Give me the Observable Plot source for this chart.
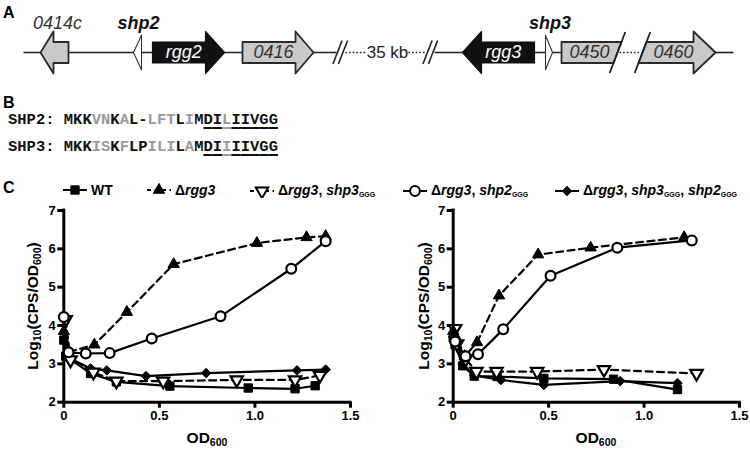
<!DOCTYPE html>
<html>
<head>
<meta charset="utf-8">
<script src="https://cdn.jsdelivr.net/npm/d3@7"></script>
<script src="https://cdn.jsdelivr.net/npm/@observablehq/plot@0.6"></script>
<style>
  body { margin: 0; background: #fff; }
  #fig { position: relative; width: 750px; height: 449px; overflow: hidden;
         font-family: "Liberation Sans", Arial, Helvetica, sans-serif; color: #000; }
  .abs { position: absolute; }
  .plabel { font-weight: bold; font-size: 16px; line-height: 1; }
  .seq { font-family: "Liberation Mono", "Courier New", monospace; font-weight: bold;
         font-size: 15.5px; white-space: pre; color: #111; line-height: 1; }
  .g { color: #9a9a9a; }
  .u { text-decoration: underline; text-underline-offset: 3px; text-decoration-thickness: 1.6px; }
  .leg { font-weight: bold; font-size: 14px; white-space: nowrap; display: flex; align-items: center; line-height: 1; }
  .leg svg { margin-right: 4px; }
  .leg sub { font-size: 7px; vertical-align: -2px; }
  .ytitle { font-weight: bold; font-size: 15.5px; white-space: nowrap; transform: translate(-50%,-50%) rotate(-90deg); line-height: 1; }
  .xtitle { font-weight: bold; font-size: 15.5px; white-space: nowrap; transform: translate(-50%,-50%); line-height: 1; }
  .ytitle sub, .xtitle sub { font-size: 10.5px; vertical-align: -3px; }
  svg.cplot g[aria-label="x-axis tick"] path, svg.cplot g[aria-label="y-axis tick"] path { stroke-width: 3; }
</style>
</head>
<body>
<div id="fig"></div>
<script>
// ===================== DATA =====================
// Panel A: gene map (schematic positions along the locus)
const geneNames  = ["0414c", "shp2", "rgg2", "0416", "rgg3", "shp3", "0450", "0460"];
const geneLeft   = [40, 133, 152, 242, 462, 545, 561, 642];
const geneRight  = [68, 141, 224, 313, 534, 552, 617, 715];
const geneStrand = [-1, -1, 1, 1, -1, 1, 0, 1];
const geneHead   = [13, 8, 19, 18, 19, 7, 0, 22];
const geneKind   = ["gray", "white", "black", "gray", "black", "white", "gray", "gray"];
const geneCut    = ["", "", "", "", "", "", "right", "left"];
const backboneFrom = [23, 434, 715];
const backboneTo   = [336, 617, 733];
const gapFrom = [345, 408, 619];
const gapTo   = [366, 425, 641];
const breakAt = [337, 342.5, 427, 432.5];
const gapLabel = "35 kb";
const gapLabelPos = 387;

// Panel B: peptide sequences (g = grey residue, u = underlined)
const seqNames = ["SHP2", "SHP3"];
const seqs     = ["MKKVNKAL-LFTLIMDILIIVGG", "MKKISKFLPILILAMDIIIIVGG"];
const seqGrey  = [[3,4,6,9,10,11,13,17], [3,4,6,9,10,11,13,17]];
const underlineFrom = 15;

// Panel C: Log10(CPS/OD600) vs OD600
const seriesNames = ["WT", "Δrgg3", "Δrgg3, shp3GGG", "Δrgg3, shp2GGG", "Δrgg3, shp3GGG, shp2GGG"];

// left panel
const L_wt_x   = [0, 0.01, 0.14, 0.275, 0.555, 0.965, 1.21, 1.315];
const L_wt_y   = [3.62, 3.2, 2.75, 2.53, 2.42, 2.37, 2.35, 2.43];
const L_d3_x   = [0, 0.02, 0.16, 0.33, 0.575, 1.01, 1.27, 1.37];
const L_d3_y   = [3.85, 3.3, 3.5, 4.35, 5.6, 6.15, 6.3, 6.33];
const L_s3_x   = [0.01, 0.035, 0.155, 0.275, 0.52, 0.905, 1.21, 1.34];
const L_s3_y   = [4.15, 3.1, 2.78, 2.55, 2.55, 2.58, 2.58, 2.7];
const L_s2_x   = [0, 0.025, 0.115, 0.24, 0.46, 0.82, 1.19, 1.37];
const L_s2_y   = [4.22, 3.3, 3.27, 3.28, 3.66, 4.24, 5.48, 6.2];
const L_s32_x  = [0, 0.02, 0.14, 0.225, 0.43, 0.745, 1.22, 1.37];
const L_s32_y  = [4.25, 3.17, 2.88, 2.83, 2.68, 2.76, 2.83, 2.85];

// right panel
const R_wt_x   = [0, 0.01, 0.05, 0.11, 0.23, 0.475, 0.84, 1.175];
const R_wt_y   = [3.68, 3.5, 2.95, 2.68, 2.67, 2.62, 2.6, 2.33];
const R_d3_x   = [0, 0.02, 0.06, 0.125, 0.24, 0.445, 0.72, 1.21];
const R_d3_y   = [3.85, 3.65, 3.2, 3.56, 4.78, 5.85, 6.03, 6.3];
const R_s3_x   = [0.01, 0.02, 0.065, 0.122, 0.227, 0.44, 0.79, 1.275];
const R_s3_y   = [3.92, 3.52, 3.12, 2.8, 2.8, 2.8, 2.85, 2.75];
const R_s2_x   = [0.01, 0.065, 0.13, 0.262, 0.51, 0.86, 1.25];
const R_s2_y   = [3.58, 3.2, 3.25, 3.9, 5.3, 6.03, 6.22];
const R_s32_x  = [0, 0.02, 0.05, 0.11, 0.25, 0.475, 0.875, 1.175];
const R_s32_y  = [3.7, 3.6, 3.0, 2.7, 2.58, 2.45, 2.55, 2.5];

const xTicks = [0, 0.5, 1.0, 1.5];
const yTicks = [2, 3, 4, 5, 6, 7];

// ===================== STYLE per series =====================
const seriesStyle = [
  {symbol: "square",   fill: "black", dash: false, rotate: 0,   r: 4.7},
  {symbol: "triangle", fill: "black", dash: true,  rotate: 0,   r: 4.2},
  {symbol: "triangle", fill: "white", dash: true,  rotate: 180, r: 4.6},
  {symbol: "circle",   fill: "white", dash: false, rotate: 0,   r: 4.9},
  {symbol: "diamond2", fill: "black", dash: false, rotate: 0,   r: 4.3}
];
const legendHTML = [
  "WT",
  "Δ<i>rgg3</i>",
  "Δ<i>rgg3</i>, <i>shp3</i><sub>GGG</sub>",
  "Δ<i>rgg3</i>, <i>shp2</i><sub>GGG</sub>",
  "Δ<i>rgg3</i>, <i>shp3</i><sub>GGG</sub>, <i>shp2</i><sub>GGG</sub>"
];

const fig = document.getElementById("fig");
function place(el, left, top) { el.classList.add("abs"); el.style.left = left + "px"; el.style.top = top + "px"; fig.appendChild(el); return el; }
function div(cls, html) { const d = document.createElement("div"); d.className = cls; d.innerHTML = html; return d; }

// ===================== PANEL A =====================
place(div("plabel", "A"), 3, 5);
const K = 4; // slant of cut edges
function genePoly(i) {
  const Lx = geneLeft[i], Rx = geneRight[i], s = geneStrand[i], h = geneHead[i];
  const b = 1, H = 2;
  if (geneNames[i].startsWith("shp")) {
    const hh = 1.65;
    return s < 0 ? [[Lx,0],[Rx,hh],[Rx,-hh]] : [[Rx,0],[Lx,hh],[Lx,-hh]];
  }
  if (geneCut[i] === "right") return [[Lx,b],[Rx+K*b,b],[Rx-K*b,-b],[Lx,-b]];
  if (geneCut[i] === "left")  return [[Lx+K*b,b],[Rx-h,b],[Rx-h,H],[Rx,0],[Rx-h,-H],[Rx-h,-b],[Lx-K*b,-b]];
  if (s > 0) return [[Lx,b],[Rx-h,b],[Rx-h,H],[Rx,0],[Rx-h,-H],[Rx-h,-b],[Lx,-b]];
  return [[Rx,b],[Lx+h,b],[Lx+h,H],[Lx,0],[Lx+h,-H],[Lx+h,-b],[Rx,-b]];
}
const polyRows = geneNames.flatMap((g, i) => genePoly(i).map(([x, y]) => ({gene: g, kind: geneKind[i], x, y})));
const cutLines = geneNames.map((g, i) => ({i, g})).filter(d => geneCut[d.i]).map(({i}) => {
  const c = geneCut[i] === "right" ? geneRight[i] : geneLeft[i];
  return {x1: c - K*1.95, y1: -1.95, x2: c + K*1.95, y2: 1.95};
});
const breaks = breakAt.map(x => ({x1: x - 4.6, y1: -1.1, x2: x + 4.6, y2: 1.15}));
const solidSegs = backboneFrom.map((f, i) => ({x1: f, x2: backboneTo[i]}));
const gapSegs = gapFrom.map((f, i) => ({x1: f, x2: gapTo[i]}));
const labelRows = geneNames.map((g, i) => {
  const s = geneStrand[i], h = geneHead[i];
  const bodyL = s < 0 ? geneLeft[i] + h : geneLeft[i];
  const bodyR = s > 0 ? geneRight[i] - h : geneRight[i];
  const above = geneNames[i].startsWith("shp") || g === "0414c";
  return {
    g, x: above ? (geneLeft[i] + geneRight[i]) / 2 + (g === "0414c" ? 3 : 1)
                : ((bodyL + bodyR) / 2 + (geneLeft[i] + geneRight[i]) / 2) / 2,
    y: above ? 2.78 : 0,
    above, kind: geneKind[i]
  };
});
const U = 10.5; // px per unit, for y domain
const plotA = Plot.plot({
  width: 750, height: 90, margin: 0,
  x: {domain: [0, 750], axis: null},
  y: {domain: [-38 / U, 52 / U], axis: null},
  style: {fontFamily: '"Liberation Sans", Arial, sans-serif', background: "transparent", overflow: "visible"},
  marks: [
    Plot.link(solidSegs, {x1: "x1", x2: "x2", y1: 0, y2: 0, stroke: "#222", strokeWidth: 1.6}),
    Plot.link(gapSegs, {x1: "x1", x2: "x2", y1: 0, y2: 0, stroke: "#222", strokeWidth: 1.6, strokeDasharray: "1.6,2"}),
    Plot.link(breaks, {x1: "x1", y1: "y1", x2: "x2", y2: "y2", stroke: "#222", strokeWidth: 1.6}),
    Plot.line(polyRows.filter(d => d.kind === "gray"), {x: "x", y: "y", z: "gene", curve: "linear-closed", fill: "#c9c9c9", stroke: "#2a2a2a", strokeWidth: 1.8}),
    Plot.line(polyRows.filter(d => d.kind === "black"), {x: "x", y: "y", z: "gene", curve: "linear-closed", fill: "#111", stroke: "#111", strokeWidth: 1.2}),
    Plot.line(polyRows.filter(d => d.kind === "white"), {x: "x", y: "y", z: "gene", curve: "linear-closed", fill: "#fff", stroke: "#333", strokeWidth: 1.1}),
    Plot.link(cutLines, {x1: "x1", y1: "y1", x2: "x2", y2: "y2", stroke: "#222", strokeWidth: 1.8}),
    Plot.text(labelRows.filter(d => d.above && d.g === "0414c"), {x: "x", y: "y", text: "g", fontSize: 18, fontStyle: "italic", fill: "#333"}),
    Plot.text(labelRows.filter(d => d.above && d.g !== "0414c"), {x: "x", y: "y", text: "g", fontSize: 18, fontStyle: "italic", fontWeight: "bold", fill: "#111"}),
    Plot.text(labelRows.filter(d => !d.above), {x: "x", y: "y", text: "g", fontSize: 18, fontStyle: "italic",
      fill: d => d.kind === "black" ? "#fff" : "#333"}),
    Plot.text([gapLabel], {x: gapLabelPos, y: 0, text: d => d, fontSize: 17, fill: "#222"})
  ]
});
place(plotA, 0, 0);

// ===================== PANEL B =====================
place(div("plabel", "B"), 3, 95);
seqs.forEach((sq, k) => {
  let html = seqNames[k] + ": ";
  [...sq].forEach((ch, j) => {
    const cls = [];
    if (seqGrey[k].includes(j)) cls.push("g");
    if (j >= underlineFrom) cls.push("u");
    html += cls.length ? `<span class="${cls.join(" ")}">${ch}</span>` : ch;
  });
  place(div("seq", html), 8, 113 + k * 27);
});

// ===================== PANEL C =====================
place(div("plabel", "C"), 3, 180);

// legend
const legendLeft = [63, 147, 250, 403, 555];
seriesNames.forEach((name, i) => {
  const st = seriesStyle[i];
  const sym = d3.symbol().type({square: d3.symbolSquare, triangle: d3.symbolTriangle, circle: d3.symbolCircle, diamond2: d3.symbolDiamond2}[st.symbol]).size(Math.PI * st.r * st.r)();
  const svg = `<svg width="24" height="14" viewBox="0 0 24 14"><line x1="0" y1="7" x2="24" y2="7" stroke="black" stroke-width="2" ${st.dash ? 'stroke-dasharray="4,3.5"' : ''}/><path d="${sym}" transform="translate(12,7) rotate(${st.rotate})" fill="${st.fill}" stroke="black" stroke-width="${st.fill === 'white' ? 2 : 1}"/></svg>`;
  const el = div("leg", svg + `<span>${legendHTML[i]}</span>`);
  el.title = name;
  place(el, legendLeft[i], 183);
});

function makeChart(xsArr, ysArr) {
  const marks = [];
  const order = [0, 4, 2, 1, 3];
  for (const i of order) {
    const st = seriesStyle[i];
    const rows = xsArr[i].map((x, j) => ({x, y: ysArr[i][j], series: seriesNames[i]}));
    marks.push(Plot.line(rows, {x: "x", y: "y", stroke: "black", strokeWidth: 2.2, strokeDasharray: st.dash ? "7,4.5" : null}));
    marks.push(Plot.dot(rows, {x: "x", y: "y", symbol: st.symbol, r: st.r, fill: st.fill, stroke: "black",
      strokeWidth: st.fill === "white" ? 2.2 : 1, rotate: st.rotate}));
  }
  return marks;
}
function chart(xsArr, ysArr, mLeft, mRight) {
  return Plot.plot({
    width: 375, height: 254,
    marginLeft: mLeft, marginRight: mRight, marginTop: 15, marginBottom: 47.3,
    className: "cplot",
    style: {fontFamily: '"Liberation Sans", Arial, sans-serif', fontSize: "13px", fontWeight: "bold", background: "transparent", overflow: "visible", color: "#000"},
    x: {domain: [0, 1.5]},
    y: {domain: [2, 7]},
    marks: [
      Plot.axisX({ticks: xTicks, tickFormat: d => d === 0 ? "0" : d.toFixed(1), tickSize: 6, tickPadding: 3, label: null, strokeWidth: 3}),
      Plot.axisY({ticks: yTicks, tickFormat: d => String(d), tickSize: 6, tickPadding: 2, label: null, strokeWidth: 3}),
      Plot.ruleX([0], {y1: 2, y2: 7, stroke: "black", strokeWidth: 3, strokeLinecap: "square"}),
      Plot.ruleY([2], {x1: 0, x2: 1.5, stroke: "black", strokeWidth: 3, strokeLinecap: "square"}),
      ...makeChart(xsArr, ysArr)
    ]
  });
}
const left = chart([L_wt_x, L_d3_x, L_s3_x, L_s2_x, L_s32_x], [L_wt_y, L_d3_y, L_s3_y, L_s2_y, L_s32_y], 63.3, 25);
const right = chart([R_wt_x, R_d3_x, R_s3_x, R_s2_x, R_s32_x], [R_wt_y, R_d3_y, R_s3_y, R_s2_y, R_s32_y], 77.7, 11);
place(left, 0, 195);
place(right, 375, 195);

const yt = "Log<sub>10</sub>(CPS/OD<sub>600</sub>)";
const xt = "OD<sub>600</sub>";
place(div("ytitle", yt), 34, 306);
place(div("ytitle", yt), 425, 306);
place(div("xtitle", xt), 207, 439);
place(div("xtitle", xt), 596, 439);
</script>
</body>
</html>
